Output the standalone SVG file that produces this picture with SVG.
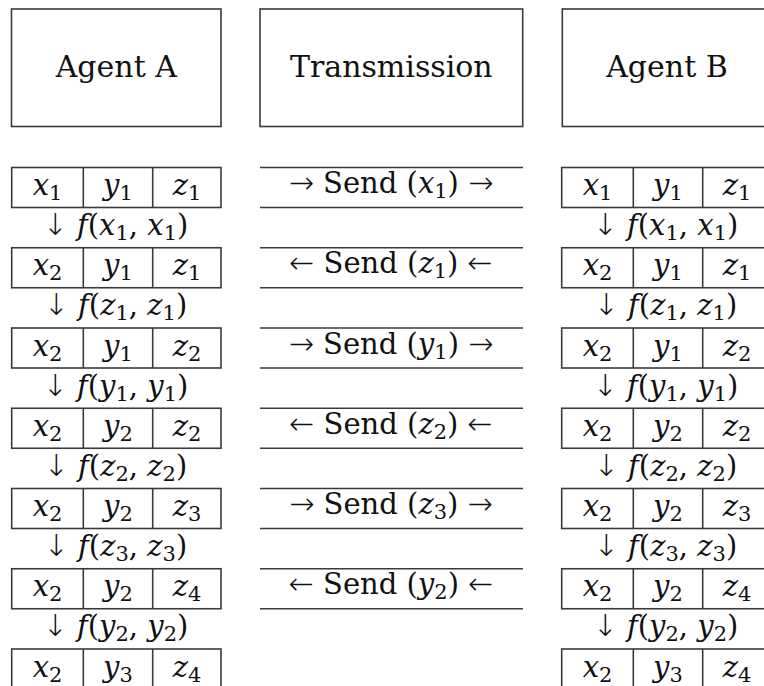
<svg xmlns="http://www.w3.org/2000/svg" width="764" height="686" viewBox="0 0 764 686">
<style>
.box{fill:#fff;stroke:#3a3a3a;stroke-width:1.6}
.ln{stroke:#3a3a3a;stroke-width:1.6}
text{font-family:"DejaVu Serif","Liberation Serif",serif;fill:#111;text-anchor:middle}
.hd{font-size:30px}
.t{font-size:29px}
.i{font-style:italic}
.s{font-size:21px;font-style:normal}
.ar{font-family:"DejaVu Sans",sans-serif;font-weight:200;font-size:30px}
</style>
<rect width="764" height="686" fill="#fff"/>
<g id="header-agent-a"><rect class="box" x="11.5" y="9" width="209.5" height="117.5"/><text class="hd" x="116.3" y="77">Agent A</text></g>
<g id="header-transmission"><rect class="box" x="260" y="9" width="262.7" height="117.5"/><text class="hd" x="391.3" y="77">Transmission</text></g>
<g id="header-agent-b"><rect class="box" x="562.3" y="9" width="209.4" height="117.5"/><text class="hd" x="667" y="77">Agent B</text></g>

<g id="agent-a-states">
<g id="a-row1"><rect class="box" x="11.7" y="167.5" width="209.3" height="40"/><line class="ln" x1="83.3" y1="167.5" x2="83.3" y2="207.5"/><line class="ln" x1="152.7" y1="167.5" x2="152.7" y2="207.5"/>
<text class="t" y="195"><tspan x="47.5"><tspan class="i">x</tspan><tspan class="s" dy="5">1</tspan></tspan><tspan x="118" dy="-5"><tspan class="i">y</tspan><tspan class="s" dy="5">1</tspan></tspan><tspan x="187" dy="-5"><tspan class="i">z</tspan><tspan class="s" dy="5">1</tspan></tspan></text></g>
<g id="a-row2"><rect class="box" x="11.7" y="247.75" width="209.3" height="40"/><line class="ln" x1="83.3" y1="247.75" x2="83.3" y2="287.75"/><line class="ln" x1="152.7" y1="247.75" x2="152.7" y2="287.75"/>
<text class="t" y="275.25"><tspan x="47.5"><tspan class="i">x</tspan><tspan class="s" dy="5">2</tspan></tspan><tspan x="118" dy="-5"><tspan class="i">y</tspan><tspan class="s" dy="5">1</tspan></tspan><tspan x="187" dy="-5"><tspan class="i">z</tspan><tspan class="s" dy="5">1</tspan></tspan></text></g>
<g id="a-row3"><rect class="box" x="11.7" y="328" width="209.3" height="40"/><line class="ln" x1="83.3" y1="328" x2="83.3" y2="368"/><line class="ln" x1="152.7" y1="328" x2="152.7" y2="368"/>
<text class="t" y="355.5"><tspan x="47.5"><tspan class="i">x</tspan><tspan class="s" dy="5">2</tspan></tspan><tspan x="118" dy="-5"><tspan class="i">y</tspan><tspan class="s" dy="5">1</tspan></tspan><tspan x="187" dy="-5"><tspan class="i">z</tspan><tspan class="s" dy="5">2</tspan></tspan></text></g>
<g id="a-row4"><rect class="box" x="11.7" y="408.25" width="209.3" height="40"/><line class="ln" x1="83.3" y1="408.25" x2="83.3" y2="448.25"/><line class="ln" x1="152.7" y1="408.25" x2="152.7" y2="448.25"/>
<text class="t" y="435.75"><tspan x="47.5"><tspan class="i">x</tspan><tspan class="s" dy="5">2</tspan></tspan><tspan x="118" dy="-5"><tspan class="i">y</tspan><tspan class="s" dy="5">2</tspan></tspan><tspan x="187" dy="-5"><tspan class="i">z</tspan><tspan class="s" dy="5">2</tspan></tspan></text></g>
<g id="a-row5"><rect class="box" x="11.7" y="488.5" width="209.3" height="40"/><line class="ln" x1="83.3" y1="488.5" x2="83.3" y2="528.5"/><line class="ln" x1="152.7" y1="488.5" x2="152.7" y2="528.5"/>
<text class="t" y="516"><tspan x="47.5"><tspan class="i">x</tspan><tspan class="s" dy="5">2</tspan></tspan><tspan x="118" dy="-5"><tspan class="i">y</tspan><tspan class="s" dy="5">2</tspan></tspan><tspan x="187" dy="-5"><tspan class="i">z</tspan><tspan class="s" dy="5">3</tspan></tspan></text></g>
<g id="a-row6"><rect class="box" x="11.7" y="568.75" width="209.3" height="40"/><line class="ln" x1="83.3" y1="568.75" x2="83.3" y2="608.75"/><line class="ln" x1="152.7" y1="568.75" x2="152.7" y2="608.75"/>
<text class="t" y="596.25"><tspan x="47.5"><tspan class="i">x</tspan><tspan class="s" dy="5">2</tspan></tspan><tspan x="118" dy="-5"><tspan class="i">y</tspan><tspan class="s" dy="5">2</tspan></tspan><tspan x="187" dy="-5"><tspan class="i">z</tspan><tspan class="s" dy="5">4</tspan></tspan></text></g>
<g id="a-row7"><rect class="box" x="11.7" y="649" width="209.3" height="40"/><line class="ln" x1="83.3" y1="649" x2="83.3" y2="689"/><line class="ln" x1="152.7" y1="649" x2="152.7" y2="689"/>
<text class="t" y="676.5"><tspan x="47.5"><tspan class="i">x</tspan><tspan class="s" dy="5">2</tspan></tspan><tspan x="118" dy="-5"><tspan class="i">y</tspan><tspan class="s" dy="5">3</tspan></tspan><tspan x="187" dy="-5"><tspan class="i">z</tspan><tspan class="s" dy="5">4</tspan></tspan></text></g>
</g>

<g id="agent-b-states">
<g id="b-row1"><rect class="box" x="561.7" y="167.5" width="209.3" height="40"/><line class="ln" x1="633.3" y1="167.5" x2="633.3" y2="207.5"/><line class="ln" x1="702.7" y1="167.5" x2="702.7" y2="207.5"/>
<text class="t" y="195"><tspan x="597.5"><tspan class="i">x</tspan><tspan class="s" dy="5">1</tspan></tspan><tspan x="668" dy="-5"><tspan class="i">y</tspan><tspan class="s" dy="5">1</tspan></tspan><tspan x="737" dy="-5"><tspan class="i">z</tspan><tspan class="s" dy="5">1</tspan></tspan></text></g>
<g id="b-row2"><rect class="box" x="561.7" y="247.75" width="209.3" height="40"/><line class="ln" x1="633.3" y1="247.75" x2="633.3" y2="287.75"/><line class="ln" x1="702.7" y1="247.75" x2="702.7" y2="287.75"/>
<text class="t" y="275.25"><tspan x="597.5"><tspan class="i">x</tspan><tspan class="s" dy="5">2</tspan></tspan><tspan x="668" dy="-5"><tspan class="i">y</tspan><tspan class="s" dy="5">1</tspan></tspan><tspan x="737" dy="-5"><tspan class="i">z</tspan><tspan class="s" dy="5">1</tspan></tspan></text></g>
<g id="b-row3"><rect class="box" x="561.7" y="328" width="209.3" height="40"/><line class="ln" x1="633.3" y1="328" x2="633.3" y2="368"/><line class="ln" x1="702.7" y1="328" x2="702.7" y2="368"/>
<text class="t" y="355.5"><tspan x="597.5"><tspan class="i">x</tspan><tspan class="s" dy="5">2</tspan></tspan><tspan x="668" dy="-5"><tspan class="i">y</tspan><tspan class="s" dy="5">1</tspan></tspan><tspan x="737" dy="-5"><tspan class="i">z</tspan><tspan class="s" dy="5">2</tspan></tspan></text></g>
<g id="b-row4"><rect class="box" x="561.7" y="408.25" width="209.3" height="40"/><line class="ln" x1="633.3" y1="408.25" x2="633.3" y2="448.25"/><line class="ln" x1="702.7" y1="408.25" x2="702.7" y2="448.25"/>
<text class="t" y="435.75"><tspan x="597.5"><tspan class="i">x</tspan><tspan class="s" dy="5">2</tspan></tspan><tspan x="668" dy="-5"><tspan class="i">y</tspan><tspan class="s" dy="5">2</tspan></tspan><tspan x="737" dy="-5"><tspan class="i">z</tspan><tspan class="s" dy="5">2</tspan></tspan></text></g>
<g id="b-row5"><rect class="box" x="561.7" y="488.5" width="209.3" height="40"/><line class="ln" x1="633.3" y1="488.5" x2="633.3" y2="528.5"/><line class="ln" x1="702.7" y1="488.5" x2="702.7" y2="528.5"/>
<text class="t" y="516"><tspan x="597.5"><tspan class="i">x</tspan><tspan class="s" dy="5">2</tspan></tspan><tspan x="668" dy="-5"><tspan class="i">y</tspan><tspan class="s" dy="5">2</tspan></tspan><tspan x="737" dy="-5"><tspan class="i">z</tspan><tspan class="s" dy="5">3</tspan></tspan></text></g>
<g id="b-row6"><rect class="box" x="561.7" y="568.75" width="209.3" height="40"/><line class="ln" x1="633.3" y1="568.75" x2="633.3" y2="608.75"/><line class="ln" x1="702.7" y1="568.75" x2="702.7" y2="608.75"/>
<text class="t" y="596.25"><tspan x="597.5"><tspan class="i">x</tspan><tspan class="s" dy="5">2</tspan></tspan><tspan x="668" dy="-5"><tspan class="i">y</tspan><tspan class="s" dy="5">2</tspan></tspan><tspan x="737" dy="-5"><tspan class="i">z</tspan><tspan class="s" dy="5">4</tspan></tspan></text></g>
<g id="b-row7"><rect class="box" x="561.7" y="649" width="209.3" height="40"/><line class="ln" x1="633.3" y1="649" x2="633.3" y2="689"/><line class="ln" x1="702.7" y1="649" x2="702.7" y2="689"/>
<text class="t" y="676.5"><tspan x="597.5"><tspan class="i">x</tspan><tspan class="s" dy="5">2</tspan></tspan><tspan x="668" dy="-5"><tspan class="i">y</tspan><tspan class="s" dy="5">3</tspan></tspan><tspan x="737" dy="-5"><tspan class="i">z</tspan><tspan class="s" dy="5">4</tspan></tspan></text></g>
</g>

<g id="connectors">
<g id="a-updates">
<text class="t" x="115.5" y="235"><tspan class="ar">↓</tspan> <tspan class="i">f</tspan>(<tspan class="i">x</tspan><tspan class="s" dy="5">1</tspan><tspan dy="-5">, </tspan><tspan class="i">x</tspan><tspan class="s" dy="5">1</tspan><tspan dy="-5">)</tspan></text>
<text class="t" x="115.5" y="315.25"><tspan class="ar">↓</tspan> <tspan class="i">f</tspan>(<tspan class="i">z</tspan><tspan class="s" dy="5">1</tspan><tspan dy="-5">, </tspan><tspan class="i">z</tspan><tspan class="s" dy="5">1</tspan><tspan dy="-5">)</tspan></text>
<text class="t" x="115.5" y="395.5"><tspan class="ar">↓</tspan> <tspan class="i">f</tspan>(<tspan class="i">y</tspan><tspan class="s" dy="5">1</tspan><tspan dy="-5">, </tspan><tspan class="i">y</tspan><tspan class="s" dy="5">1</tspan><tspan dy="-5">)</tspan></text>
<text class="t" x="115.5" y="475.75"><tspan class="ar">↓</tspan> <tspan class="i">f</tspan>(<tspan class="i">z</tspan><tspan class="s" dy="5">2</tspan><tspan dy="-5">, </tspan><tspan class="i">z</tspan><tspan class="s" dy="5">2</tspan><tspan dy="-5">)</tspan></text>
<text class="t" x="115.5" y="556"><tspan class="ar">↓</tspan> <tspan class="i">f</tspan>(<tspan class="i">z</tspan><tspan class="s" dy="5">3</tspan><tspan dy="-5">, </tspan><tspan class="i">z</tspan><tspan class="s" dy="5">3</tspan><tspan dy="-5">)</tspan></text>
<text class="t" x="115.5" y="636.25"><tspan class="ar">↓</tspan> <tspan class="i">f</tspan>(<tspan class="i">y</tspan><tspan class="s" dy="5">2</tspan><tspan dy="-5">, </tspan><tspan class="i">y</tspan><tspan class="s" dy="5">2</tspan><tspan dy="-5">)</tspan></text>
</g>
<g id="b-updates">
<text class="t" x="665.5" y="235"><tspan class="ar">↓</tspan> <tspan class="i">f</tspan>(<tspan class="i">x</tspan><tspan class="s" dy="5">1</tspan><tspan dy="-5">, </tspan><tspan class="i">x</tspan><tspan class="s" dy="5">1</tspan><tspan dy="-5">)</tspan></text>
<text class="t" x="665.5" y="315.25"><tspan class="ar">↓</tspan> <tspan class="i">f</tspan>(<tspan class="i">z</tspan><tspan class="s" dy="5">1</tspan><tspan dy="-5">, </tspan><tspan class="i">z</tspan><tspan class="s" dy="5">1</tspan><tspan dy="-5">)</tspan></text>
<text class="t" x="665.5" y="395.5"><tspan class="ar">↓</tspan> <tspan class="i">f</tspan>(<tspan class="i">y</tspan><tspan class="s" dy="5">1</tspan><tspan dy="-5">, </tspan><tspan class="i">y</tspan><tspan class="s" dy="5">1</tspan><tspan dy="-5">)</tspan></text>
<text class="t" x="665.5" y="475.75"><tspan class="ar">↓</tspan> <tspan class="i">f</tspan>(<tspan class="i">z</tspan><tspan class="s" dy="5">2</tspan><tspan dy="-5">, </tspan><tspan class="i">z</tspan><tspan class="s" dy="5">2</tspan><tspan dy="-5">)</tspan></text>
<text class="t" x="665.5" y="556"><tspan class="ar">↓</tspan> <tspan class="i">f</tspan>(<tspan class="i">z</tspan><tspan class="s" dy="5">3</tspan><tspan dy="-5">, </tspan><tspan class="i">z</tspan><tspan class="s" dy="5">3</tspan><tspan dy="-5">)</tspan></text>
<text class="t" x="665.5" y="636.25"><tspan class="ar">↓</tspan> <tspan class="i">f</tspan>(<tspan class="i">y</tspan><tspan class="s" dy="5">2</tspan><tspan dy="-5">, </tspan><tspan class="i">y</tspan><tspan class="s" dy="5">2</tspan><tspan dy="-5">)</tspan></text>
</g>
<g id="sends">
<line class="ln" x1="260" y1="167.5" x2="523" y2="167.5"/><line class="ln" x1="260" y1="207.5" x2="523" y2="207.5"/>
<text class="t" x="391" y="193"><tspan class="ar">→</tspan> Send (<tspan class="i">x</tspan><tspan class="s" dy="5">1</tspan><tspan dy="-5">) </tspan><tspan class="ar">→</tspan></text>
<line class="ln" x1="260" y1="247.75" x2="523" y2="247.75"/><line class="ln" x1="260" y1="287.75" x2="523" y2="287.75"/>
<text class="t" x="391" y="273.25"><tspan class="ar">←</tspan> Send (<tspan class="i">z</tspan><tspan class="s" dy="5">1</tspan><tspan dy="-5">) </tspan><tspan class="ar">←</tspan></text>
<line class="ln" x1="260" y1="328" x2="523" y2="328"/><line class="ln" x1="260" y1="368" x2="523" y2="368"/>
<text class="t" x="391" y="353.5"><tspan class="ar">→</tspan> Send (<tspan class="i">y</tspan><tspan class="s" dy="5">1</tspan><tspan dy="-5">) </tspan><tspan class="ar">→</tspan></text>
<line class="ln" x1="260" y1="408.25" x2="523" y2="408.25"/><line class="ln" x1="260" y1="448.25" x2="523" y2="448.25"/>
<text class="t" x="391" y="433.75"><tspan class="ar">←</tspan> Send (<tspan class="i">z</tspan><tspan class="s" dy="5">2</tspan><tspan dy="-5">) </tspan><tspan class="ar">←</tspan></text>
<line class="ln" x1="260" y1="488.5" x2="523" y2="488.5"/><line class="ln" x1="260" y1="528.5" x2="523" y2="528.5"/>
<text class="t" x="391" y="514"><tspan class="ar">→</tspan> Send (<tspan class="i">z</tspan><tspan class="s" dy="5">3</tspan><tspan dy="-5">) </tspan><tspan class="ar">→</tspan></text>
<line class="ln" x1="260" y1="568.75" x2="523" y2="568.75"/><line class="ln" x1="260" y1="608.75" x2="523" y2="608.75"/>
<text class="t" x="391" y="594.25"><tspan class="ar">←</tspan> Send (<tspan class="i">y</tspan><tspan class="s" dy="5">2</tspan><tspan dy="-5">) </tspan><tspan class="ar">←</tspan></text>
</g>
</g>
</svg>
